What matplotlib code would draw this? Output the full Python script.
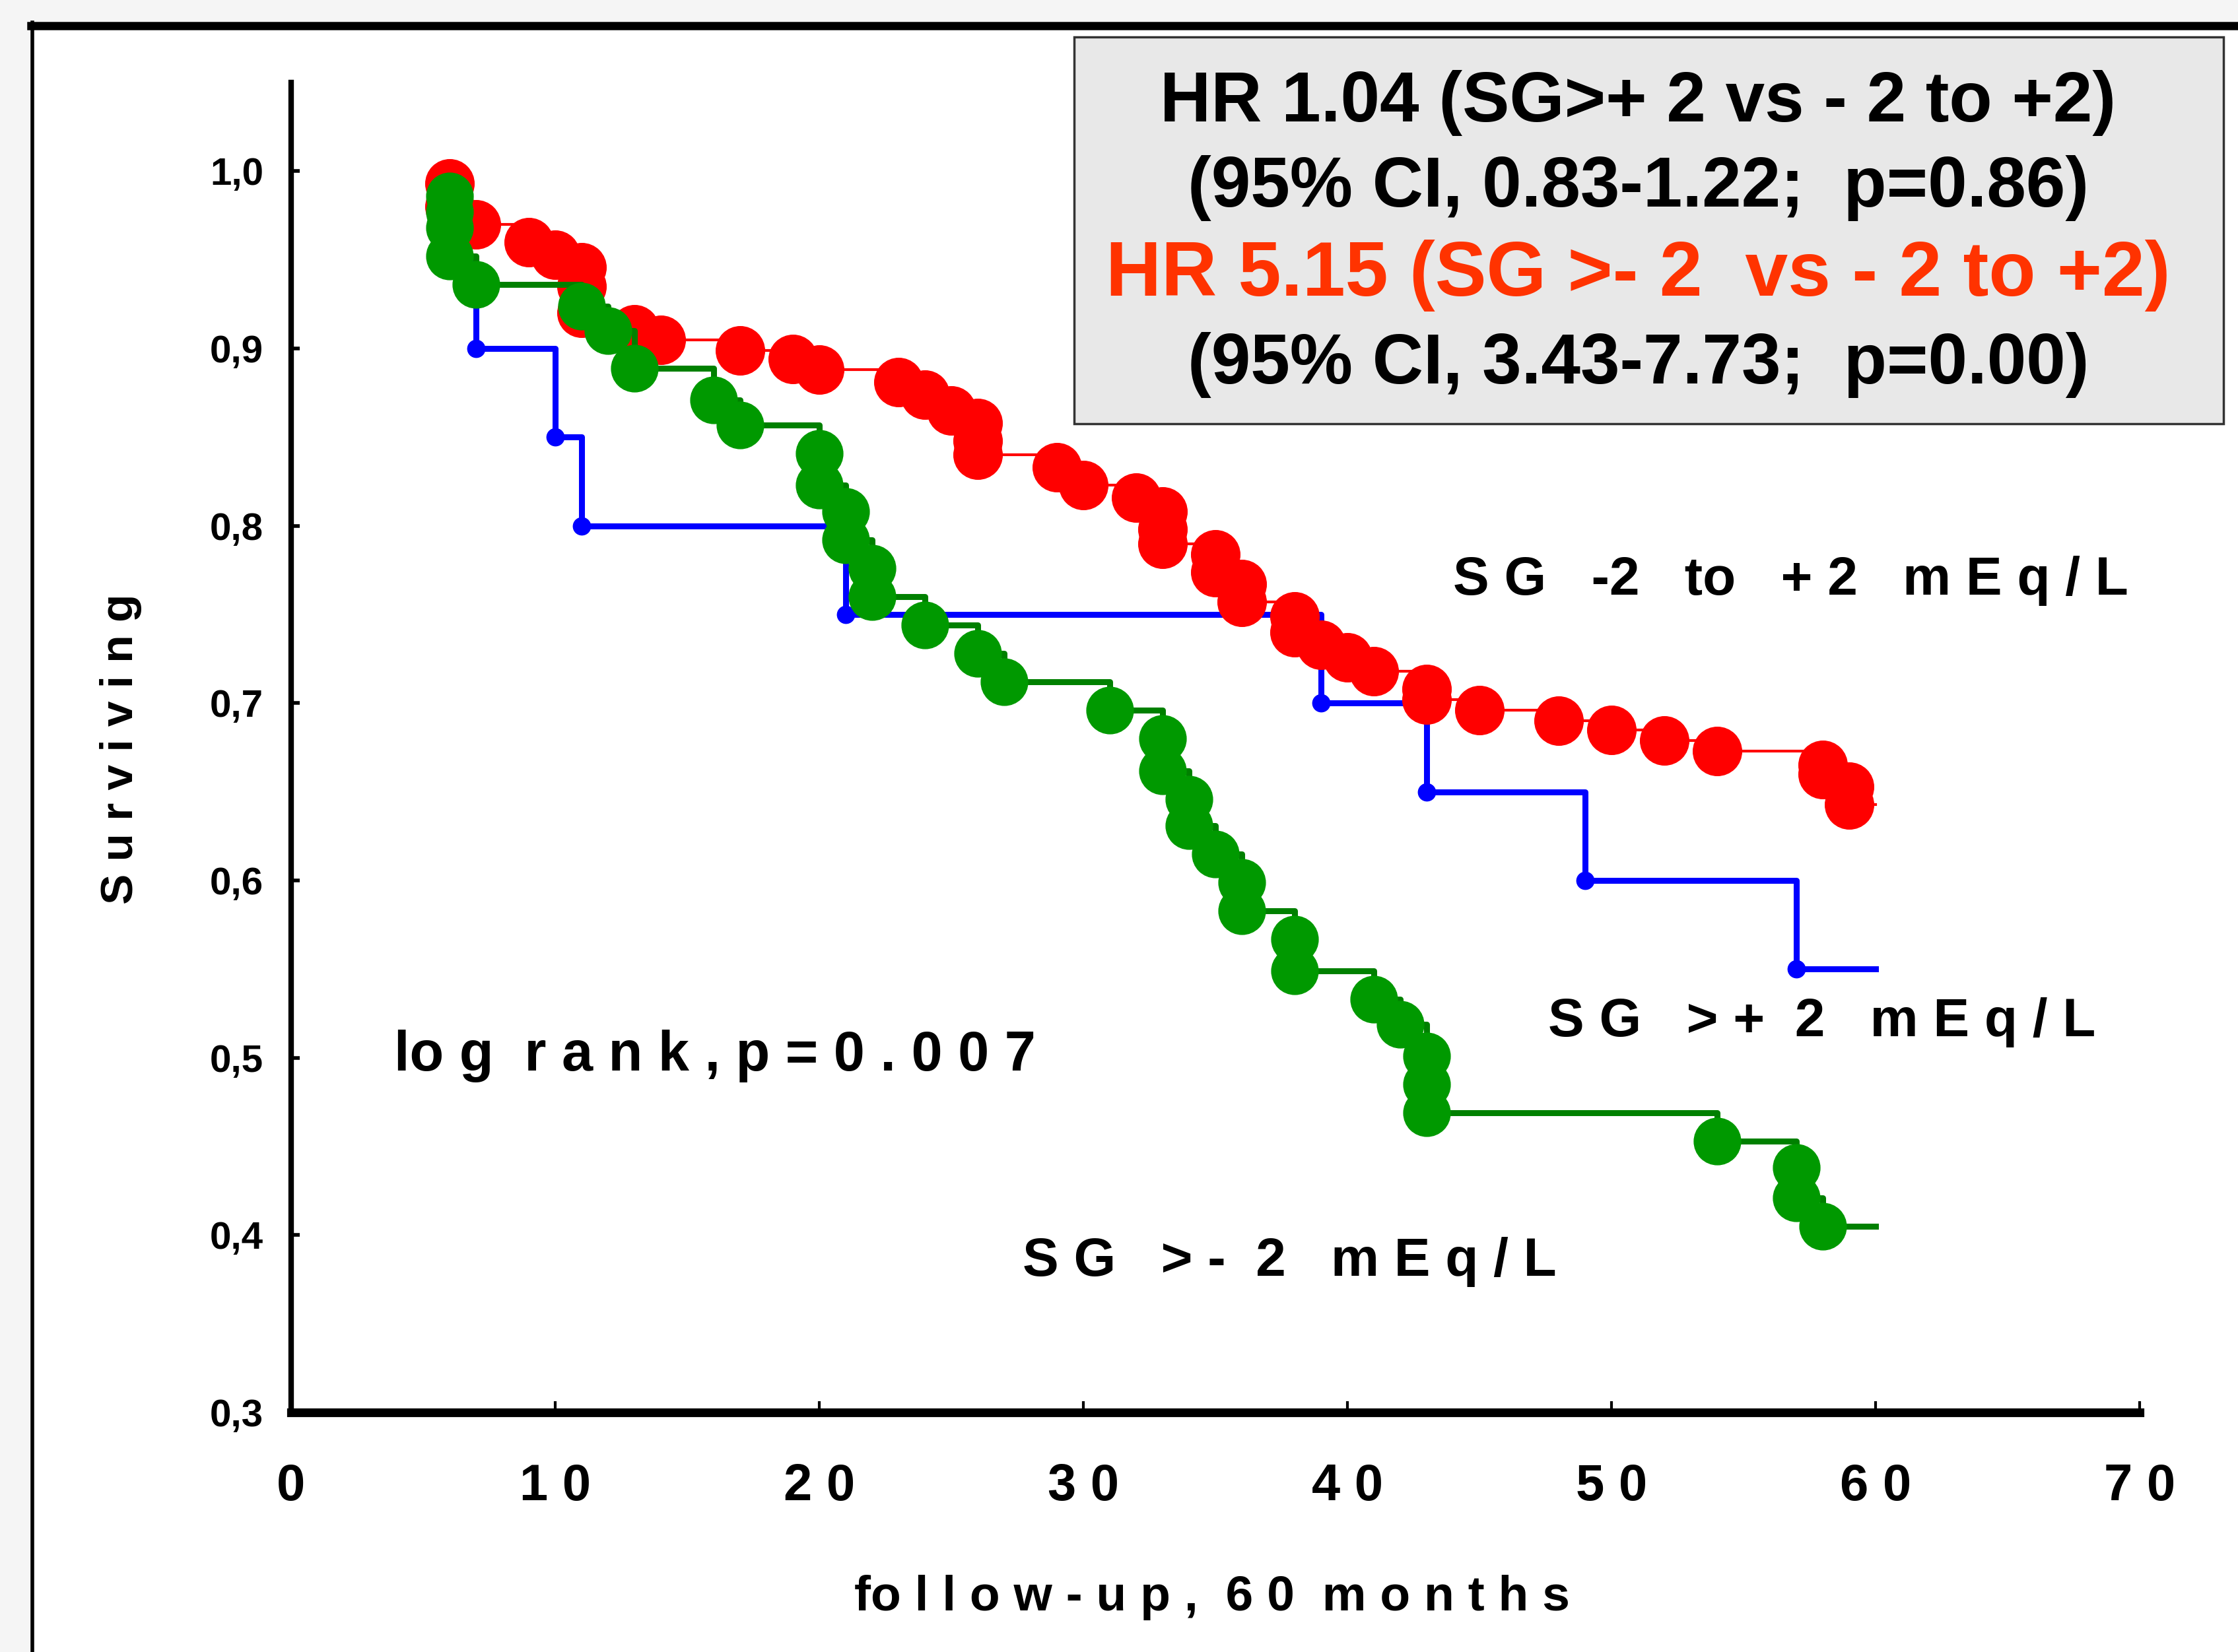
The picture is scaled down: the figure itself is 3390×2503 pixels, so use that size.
import matplotlib
matplotlib.use("Agg")
import matplotlib.pyplot as plt
from matplotlib.patches import Rectangle
from matplotlib.lines import Line2D

# ---------------- data ----------------
red_t = [6, 6, 7, 9, 10, 11, 11, 11, 13, 14, 17, 19, 20, 23, 24, 25, 26, 26, 26,
         29, 30, 32, 33, 33, 33, 35, 35, 36, 36, 38, 38, 39, 40, 41, 43, 43, 45,
         48, 50, 52, 54, 58, 58, 59, 59]
red_s = [0.993, 0.980, 0.970, 0.960, 0.953, 0.946, 0.935, 0.920, 0.911, 0.905,
         0.899, 0.894, 0.888, 0.881, 0.874, 0.865, 0.858, 0.848, 0.840, 0.833,
         0.823, 0.816, 0.808, 0.798, 0.790, 0.784, 0.774, 0.767, 0.757, 0.749,
         0.740, 0.733, 0.726, 0.718, 0.708, 0.702, 0.696, 0.690, 0.685, 0.679,
         0.673, 0.665, 0.660, 0.653, 0.643]

green_t = [6, 6, 6, 6, 7, 11, 12, 13, 16, 17, 20, 20, 21, 21, 22, 22, 24, 26, 27,
           31, 33, 33, 34, 34, 35, 36, 36, 38, 38, 41, 42, 43, 43, 43, 54, 57, 57, 58]
green_s = [0.986, 0.977, 0.968, 0.952, 0.936, 0.924, 0.910, 0.889, 0.871, 0.857,
           0.841, 0.823, 0.808, 0.792, 0.776, 0.760, 0.744, 0.728, 0.712, 0.696,
           0.680, 0.662, 0.646, 0.631, 0.615, 0.599, 0.583, 0.567, 0.549, 0.533,
           0.519, 0.501, 0.485, 0.469, 0.453, 0.438, 0.421, 0.405]

blue_t = [6, 7, 10, 11, 21, 39, 43, 49, 57]
blue_s = [0.95, 0.90, 0.85, 0.80, 0.75, 0.70, 0.65, 0.60, 0.55]

end_time = 60

x_ticks = [0, 10, 20, 30, 40, 50, 60, 70]
x_labels = ["0", "1 0", "2 0", "3 0", "4 0", "5 0", "6 0", "7 0"]
y_ticks = [0.3, 0.4, 0.5, 0.6, 0.7, 0.8, 0.9, 1.0]
y_labels = ["0,3", "0,4", "0,5", "0,6", "0,7", "0,8", "0,9", "1,0"]

box_lines = ["HR 1.04 (SG>+ 2 vs - 2 to +2)",
             "(95% CI, 0.83-1.22;  p=0.86)",
             "HR 5.15 (SG >- 2  vs - 2 to +2)",
             "(95% CI, 3.43-7.73;  p=0.00)"]
box_colors = ["black", "black", "#ff3300", "black"]
box_sizes = [77, 77, 84, 77]

# ---------------- figure ----------------
plt.rcParams["font.family"] = ["Liberation Sans", "DejaVu Sans"]
plt.rcParams["font.weight"] = "bold"

fig = plt.figure(figsize=(33.9, 25.03), dpi=100)
fig.patch.set_facecolor("#f5f5f5")

# outer white panel with border
panel = Rectangle((0.014, -0.01), 1.0, 0.994, transform=fig.transFigure,
                  facecolor="white", edgecolor="none", zorder=-10)
fig.patches.append(panel)
fig.add_artist(Line2D([0.014, 1.0], [0.9845, 0.9845], transform=fig.transFigure,
                      color="black", lw=9))
fig.add_artist(Line2D([0.0145, 0.0145], [0.0, 0.9865], transform=fig.transFigure,
                      color="black", lw=4))

ax = fig.add_axes([0.130, 0.145, 0.826, 0.805])
ax.set_facecolor("none")
ax.set_xlim(0, 70)
ax.set_ylim(0.3, 1.05)

for s in ["top", "right"]:
    ax.spines[s].set_visible(False)
ax.spines["bottom"].set_linewidth(9.5)
ax.spines["left"].set_linewidth(6)
ax.spines["left"].set_bounds(0.3, 1.05)

ax.set_xticks(x_ticks)
ax.set_xticklabels(x_labels, fontsize=56, fontweight="bold")
ax.set_yticks(y_ticks)
ax.set_yticklabels(y_labels, fontsize=42, fontweight="bold")
ax.tick_params(axis="x", direction="in", length=12, width=3, pad=55)
ax.tick_params(axis="y", direction="in", length=9, width=4, pad=30)


def km(t, s, end):
    xs = [t[0]] + list(t) + [end]
    ys = [s[0]] + list(s) + [s[-1]]
    return xs, ys


# blue (lowest)
bx, by = km(blue_t, blue_s, end_time)
ax.plot(bx, by, drawstyle="steps-post", color="#0000ff", lw=6.5, zorder=2)
ax.plot(blue_t, blue_s, "o", color="#0000ff", ms=19, zorder=2.1)

# red
rx, ry = km(red_t, red_s, end_time)
ax.plot(rx, ry, drawstyle="steps-post", color="#ff0000", lw=3, zorder=3)
ax.plot(red_t, red_s, "o", color="#ff0000", ms=53, zorder=3.1)

# green (top)
gx, gy = km(green_t, green_s, end_time)
ax.plot(gx, gy, drawstyle="steps-post", color="#008000", lw=6.5, zorder=4)
ax.plot(green_t, green_s, "o", color="#009900", ms=51, zorder=4.1)

# curve labels
ax.text(44.0, 0.769, "S G   -2   to   + 2   m E q / L", fontsize=59,
        fontweight="bold", ha="left", va="center")
ax.text(47.6, 0.520, "S G   > +  2   m E q / L", fontsize=59,
        fontweight="bold", ha="left", va="center")
ax.text(27.7, 0.385, "S G   > -  2   m E q / L", fontsize=59,
        fontweight="bold", ha="left", va="center")
ax.text(3.9, 0.501, "lo g  r a n k , p = 0 . 0 0 7", fontsize=61,
        fontweight="bold", ha="left", va="center")

# axis labels
fig.text(0.054, 0.5466, "S u r v i v i n g", rotation=90, fontsize=50,
         fontweight="bold", ha="center", va="center")
fig.text(0.5415, 0.0328, "fo l l o w - u p ,  6 0  m o n t h s", fontsize=54,
         fontweight="bold", ha="center", va="center")

# HR box
box = Rectangle((0.480, 0.7435), 0.5136, 0.234, transform=fig.transFigure,
                facecolor="#e8e8e8", edgecolor="#333333", lw=2.5, zorder=5)
fig.add_artist(box)
for yy, txt, c, fs in zip([0.9378, 0.886, 0.8333, 0.779], box_lines, box_colors,
                          box_sizes):
    fig.text(0.732, yy, txt, fontsize=fs, fontweight="bold", color=c,
             ha="center", va="center", zorder=6)

fig.savefig("out.png", dpi=100, facecolor=fig.get_facecolor())
